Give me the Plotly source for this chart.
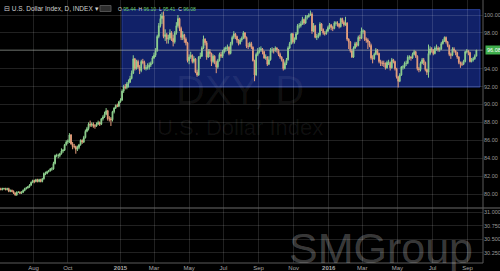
import numpy as np
import pandas as pd
import plotly.graph_objects as go
from plotly.subplots import make_subplots

# ---------------- data (2-day bars) ----------------
start_date = "2014-06-03"
end_date = "2016-09-16"
first_open = 80.7

closes = [
    80.6, 80.5, 80.6, 80.6, 80.5, 80.6, 80.3, 80.4, 80.3, 80.1,
    79.9, 80.2, 80.2, 80.1, 80.2, 80.4, 80.6, 80.7, 80.8, 81.0,
    81.3, 81.5, 81.4, 81.6, 81.4, 81.6, 81.4, 81.7, 82.3, 82.3,
    82.5, 82.6, 82.8, 82.8, 83.4, 84.3, 84.3, 84.3, 84.5, 84.8,
    84.9, 85.5, 85.8, 85.9, 86.6, 85.6, 85.3, 85.3, 85.0, 85.2,
    85.5, 86.0, 85.8, 86.3, 87.0, 87.3, 87.8, 87.7, 87.8, 87.6,
    87.6, 87.8, 88.0, 87.8, 88.4, 88.6, 88.9, 89.3, 88.4, 88.4,
    88.3, 89.2, 89.6, 89.9, 89.8, 90.3, 90.5, 91.5, 92.0, 91.9,
    92.3, 92.5, 92.9, 93.5, 95.1, 94.0, 94.8, 94.2, 93.8, 94.8,
    94.7, 94.0, 94.1, 94.2, 94.4, 94.6, 95.2, 95.5, 96.0, 97.6,
    98.8, 99.6, 99.9, 97.6, 97.8, 97.3, 97.4, 98.0, 97.4, 97.0,
    98.0, 98.8, 99.6, 98.5, 97.5, 97.8, 97.3, 96.9, 94.9, 95.3,
    95.5, 94.8, 95.1, 93.6, 93.3, 95.3, 95.4, 96.3, 97.3, 96.9,
    95.3, 95.9, 95.7, 94.8, 95.4, 94.7, 94.2, 94.9, 95.6, 95.4,
    95.9, 96.2, 96.3, 96.4, 95.7, 96.8, 97.5, 97.9, 97.6, 97.2,
    96.8, 97.2, 97.4, 98.0, 97.5, 96.5, 96.5, 96.8, 96.4, 94.9,
    93.3, 95.6, 95.9, 96.1, 96.2, 95.9, 95.2, 95.3, 94.5, 95.0,
    96.1, 96.1, 96.0, 96.3, 96.1, 95.6, 95.3, 95.0, 94.0, 94.6,
    95.0, 96.3, 96.8, 97.9, 97.0, 97.3, 97.9, 98.8, 98.8, 99.0,
    99.5, 99.1, 99.8, 99.8, 100.0, 100.1, 98.2, 98.8, 97.5, 97.6,
    97.8, 99.0, 98.4, 98.0, 97.9, 98.2, 98.6, 98.9, 98.6, 98.5,
    99.1, 99.1, 99.0, 98.7, 99.6, 99.2, 98.9, 99.1, 97.3, 97.0,
    96.0, 95.3, 96.3, 96.8, 96.6, 97.5, 97.4, 98.2, 98.2, 97.3,
    97.2, 97.0, 96.6, 95.2, 95.1, 95.6, 96.1, 95.7, 94.8, 94.6,
    94.6, 94.6, 94.1, 94.7, 94.7, 94.1, 95.0, 94.8, 94.0, 93.1,
    92.6, 93.3, 94.2, 94.2, 94.6, 94.6, 95.3, 95.3, 95.2, 95.6,
    95.9, 95.4, 94.0, 93.9, 94.6, 95.0, 94.7, 93.9, 93.6, 95.7,
    96.2, 96.1, 95.7, 96.3, 96.3, 96.1, 96.2, 96.8, 97.1, 97.5,
    97.0, 96.6, 95.6, 95.5, 96.2, 96.0, 95.8, 95.3, 94.7, 94.5,
    94.5, 94.8, 95.9, 96.0, 95.8, 94.8, 95.0, 95.1, 95.4, 96.08,
]

highs = [
    80.8, 80.7, 80.7, 80.7, 80.7, 80.7, 80.7, 80.5, 80.5, 80.4,
    80.2, 80.3, 80.3, 80.3, 80.3, 80.5, 80.7, 80.8, 80.9, 81.1,
    81.4, 81.6, 81.6, 81.7, 81.7, 81.7, 81.7, 81.8, 82.4, 82.5,
    82.6, 82.7, 82.9, 83.0, 83.6, 84.4, 84.5, 84.5, 84.6, 85.1,
    85.0, 85.6, 86.0, 86.1, 86.8, 86.7, 85.8, 85.6, 85.4, 85.4,
    85.6, 86.1, 86.1, 86.5, 87.2, 87.5, 88.0, 88.2, 88.0, 88.0,
    87.8, 88.0, 88.2, 88.1, 88.5, 88.8, 89.2, 89.6, 89.4, 88.7,
    88.6, 89.3, 89.7, 90.0, 90.1, 90.4, 90.7, 91.7, 92.2, 92.3,
    92.5, 92.8, 93.2, 93.8, 95.5, 95.2, 95.0, 95.0, 94.4, 95.0,
    95.1, 94.9, 94.4, 94.6, 94.7, 94.8, 95.4, 95.8, 96.3, 97.8,
    99.1, 100.1, 100.3, 100.4, 98.4, 98.0, 97.8, 98.4, 98.2, 97.8,
    98.2, 99.2, 100.0, 99.7, 98.7, 98.2, 97.9, 97.5, 97.0, 95.6,
    95.9, 95.6, 95.4, 95.2, 93.9, 95.4, 95.8, 96.5, 97.7, 97.4,
    97.1, 96.2, 96.2, 95.8, 95.6, 95.5, 94.9, 95.1, 95.8, 95.9,
    96.1, 96.4, 96.5, 96.7, 96.5, 97.0, 97.7, 98.2, 98.0, 97.7,
    97.3, 97.4, 97.6, 98.2, 98.1, 97.6, 96.9, 97.0, 97.0, 96.5,
    95.0, 95.8, 96.3, 96.4, 96.5, 96.3, 96.0, 95.6, 95.4, 95.4,
    96.3, 96.4, 96.3, 96.5, 96.4, 96.2, 95.8, 95.4, 95.1, 94.8,
    95.2, 96.5, 97.0, 98.0, 98.0, 97.5, 98.1, 99.0, 99.1, 99.3,
    99.8, 99.6, 100.0, 100.0, 100.2, 100.5, 100.3, 99.1, 98.9, 97.9,
    98.0, 99.2, 99.1, 98.5, 98.2, 98.4, 98.8, 99.1, 99.0, 98.8,
    99.3, 99.3, 99.3, 99.1, 99.7, 99.7, 99.4, 99.8, 99.2, 97.4,
    97.1, 96.2, 96.5, 97.0, 97.0, 97.7, 97.8, 98.6, 98.4, 98.3,
    97.5, 97.4, 97.1, 96.8, 95.5, 95.8, 96.3, 96.2, 95.8, 95.0,
    94.9, 94.9, 94.7, 94.9, 95.0, 94.8, 95.2, 95.1, 94.9, 94.1,
    93.2, 93.5, 94.3, 94.4, 94.8, 94.9, 95.5, 95.5, 95.4, 95.8,
    96.1, 96.0, 95.5, 94.2, 94.8, 95.2, 95.2, 94.8, 94.0, 96.7,
    96.5, 96.4, 96.2, 96.5, 96.7, 96.5, 96.4, 97.0, 97.3, 97.6,
    97.6, 97.1, 96.7, 95.8, 96.4, 96.4, 96.1, 95.9, 95.4, 94.8,
    94.8, 95.0, 96.0, 96.2, 96.1, 95.9, 95.2, 95.3, 95.6, 96.10,
]

lows = [
    80.5, 80.4, 80.4, 80.5, 80.4, 80.4, 80.2, 80.2, 80.2, 80.0,
    79.8, 79.8, 80.1, 80.0, 80.0, 80.1, 80.3, 80.5, 80.6, 80.7,
    80.9, 81.2, 81.2, 81.3, 81.3, 81.3, 81.3, 81.3, 81.6, 82.1,
    82.2, 82.4, 82.5, 82.6, 82.7, 83.3, 84.1, 84.0, 84.1, 84.4,
    84.6, 84.8, 85.4, 85.6, 85.7, 85.5, 85.0, 85.1, 84.5, 84.8,
    85.0, 85.4, 85.6, 85.7, 86.2, 86.9, 87.1, 87.5, 87.5, 87.4,
    87.3, 87.5, 87.7, 87.6, 87.7, 88.2, 88.5, 88.8, 88.2, 88.1,
    87.6, 88.1, 89.0, 89.5, 89.7, 89.7, 90.2, 90.4, 91.3, 91.7,
    91.7, 91.9, 92.4, 92.8, 93.4, 93.8, 93.9, 94.0, 93.4, 93.6,
    94.5, 93.9, 93.8, 93.9, 93.9, 94.2, 94.5, 95.1, 95.3, 95.9,
    97.4, 98.6, 99.0, 97.4, 97.1, 96.8, 96.8, 97.2, 97.1, 96.5,
    96.8, 97.8, 98.6, 98.2, 97.2, 97.2, 96.9, 96.6, 94.7, 94.5,
    95.1, 94.6, 94.6, 93.5, 93.1, 93.2, 95.1, 95.3, 96.2, 96.6,
    95.0, 95.2, 95.3, 94.3, 94.6, 94.5, 93.5, 94.0, 94.8, 95.2,
    95.2, 95.7, 95.9, 96.0, 95.5, 95.6, 96.6, 97.3, 97.3, 96.9,
    96.6, 96.7, 97.0, 97.3, 97.3, 96.3, 96.2, 96.4, 96.2, 94.8,
    92.6, 93.2, 95.4, 95.7, 95.9, 95.6, 95.1, 95.0, 94.3, 94.4,
    94.9, 95.8, 95.7, 95.9, 95.8, 95.4, 95.1, 94.8, 93.8, 93.9,
    94.4, 94.9, 96.2, 96.7, 96.8, 96.8, 97.2, 97.8, 98.5, 98.6,
    98.9, 98.9, 99.0, 99.5, 99.7, 99.9, 97.9, 98.1, 97.4, 97.2,
    97.4, 97.6, 98.2, 97.8, 97.7, 97.8, 98.1, 98.4, 98.3, 98.2,
    98.4, 98.8, 98.7, 98.5, 98.6, 99.0, 98.7, 98.8, 97.1, 96.2,
    95.8, 95.2, 95.2, 96.2, 96.4, 96.5, 97.1, 97.3, 97.9, 97.1,
    96.9, 96.2, 96.4, 95.0, 94.6, 95.0, 95.5, 95.5, 94.6, 94.3,
    94.3, 94.2, 93.9, 94.0, 94.4, 93.8, 94.0, 94.6, 93.8, 92.9,
    91.9, 92.5, 93.2, 93.9, 94.0, 94.3, 94.5, 95.0, 94.9, 95.1,
    95.5, 95.2, 93.8, 93.6, 93.7, 94.5, 94.4, 93.7, 93.3, 93.0,
    95.5, 95.8, 95.5, 95.6, 96.0, 95.9, 95.9, 96.1, 96.7, 97.0,
    96.8, 96.4, 95.4, 95.1, 95.4, 95.8, 95.5, 95.1, 94.5, 94.1,
    94.3, 94.4, 94.7, 95.7, 95.5, 94.7, 94.7, 94.8, 95.0, 95.41,
]

header_ohlc = [95.44, 96.10, 95.41, 96.08]
last_price = 96.08

month_ticks = [(2014, 8, "Aug"), (2014, 10, "Oct"), (2015, 1, "<b>2015</b>"),
               (2015, 3, "Mar"), (2015, 5, "May"), (2015, 7, "Jul"),
               (2015, 9, "Sep"), (2015, 11, "Nov"), (2016, 1, "<b>2016</b>"),
               (2016, 3, "Mar"), (2016, 5, "May"), (2016, 7, "Jul"),
               (2016, 9, "Sep")]
price_ticks = [80, 82, 84, 86, 88, 90, 92, 94, 96, 98, 100]
lower_ticks = [30.25, 30.50, 30.75, 31.00]

# ---------------- build ----------------
all_days = pd.bdate_range(start_date, end_date)
bar_pos = np.arange(0, len(all_days), 2)[:len(closes)]
opens = [first_open] + closes[:-1]
hi = [max(h, o, c) for h, o, c in zip(highs, opens, closes)]
lo = [min(l, o, c) for l, o, c in zip(lows, opens, closes)]

tick_pos = [int(all_days.searchsorted(pd.Timestamp(y, m, 1))) for y, m, _ in month_ticks]
tick_txt = [t for _, _, t in month_ticks]

UP = "#8fd08f"
DOWN = "#e59e7c"
GRID = "rgba(255,255,255,0.13)"
FONT = "Liberation Sans, Arial, sans-serif"

fig = make_subplots(rows=2, cols=1, shared_xaxes=True, vertical_spacing=0,
                    row_heights=[208, 55])

fig.add_trace(go.Candlestick(
    x=bar_pos, open=opens, high=hi, low=lo, close=closes,
    increasing=dict(line=dict(color=UP, width=1), fillcolor=UP),
    decreasing=dict(line=dict(color=DOWN, width=1), fillcolor=DOWN),
    whiskerwidth=0, showlegend=False, hoverinfo="skip"), row=1, col=1)
# empty indicator pane (no series visible in the reference)
fig.add_trace(go.Scatter(x=[None], y=[None], mode="lines", showlegend=False,
                         hoverinfo="skip"), row=2, col=1)

xr = [1.0, 606.3]
common_x = dict(range=xr, tickvals=tick_pos, showgrid=True, gridcolor=GRID,
                gridwidth=1, zeroline=False, showline=False, ticks="",
                rangeslider=dict(visible=False), ticklabeloverflow="allow")
fig.update_xaxes(**common_x)
fig.update_xaxes(showticklabels=False, row=1, col=1)
fig.update_xaxes(ticktext=tick_txt, showticklabels=True, ticklabelstandoff=0,
                 tickfont=dict(size=6, color="#a8a8a8", family=FONT), row=2, col=1)

price_txt = ["" if v == 96 else f"{v:.2f}" for v in price_ticks]
fig.update_yaxes(side="right", range=[78.436, 101.676], tickvals=price_ticks,
                 ticktext=price_txt, ticklabeloverflow="allow",
                 showgrid=True, gridcolor=GRID, zeroline=False, ticks="",
                 tickfont=dict(size=5.5, color="#9a9a9a", family=FONT), row=1, col=1)
fig.update_yaxes(side="right", range=[30.065, 31.074], tickvals=lower_ticks,
                 ticktext=[f"{v:.3f}" for v in lower_ticks], ticklabeloverflow="allow",
                 showgrid=True, gridcolor=GRID, zeroline=False, ticks="",
                 tickfont=dict(size=5.5, color="#9a9a9a", family=FONT), row=2, col=1)

H = 263.0
W = 483.0
shapes = [
    # range rectangle
    dict(type="rect", xref="x", yref="y", x0=154, x1=602.5, y0=91.95, y1=100.6,
         fillcolor="rgb(17,33,104)", line=dict(color="rgb(40,62,150)", width=1),
         layer="below"),
    # last price line
    dict(type="line", xref="paper", yref="y", x0=0, x1=1, y0=last_price, y1=last_price,
         line=dict(color="rgba(160,170,160,0.55)", width=1)),
    # panel divider
    dict(type="line", xref="paper", yref="paper", x0=0, x1=500 / W,
         y0=55 / H, y1=55 / H, line=dict(color="#6a6a6a", width=1)),
    # right axis border
    dict(type="line", xref="paper", yref="paper", x0=1, x1=1, y0=0, y1=1,
         line=dict(color="#5a5a5a", width=1)),
    # bottom axis border
    dict(type="line", xref="paper", yref="paper", x0=0, x1=1, y0=0, y1=0,
         line=dict(color="#5a5a5a", width=1)),
    # header icon
    dict(type="rect", xref="paper", yref="paper", x0=100 / W, x1=111 / W,
         y0=1 - 11.5 / H, y1=1 - 5.5 / H, fillcolor="#2e2e2e",
         line=dict(color="#505050", width=1)),
]

ohlc_txt = "  ".join(
    f"<span style='color:#d8d8d8'>{lab}</span> <span style='color:#6fd06f'>{v:.2f}</span>"
    for lab, v in zip("OHLC", header_ohlc))

annotations = [
    dict(text="DXY, D", xref="paper", yref="paper", x=240 / W, y=1 - 90 / H,
         xanchor="center", yanchor="middle", showarrow=False,
         font=dict(size=40, color="rgba(255,255,255,0.065)", family=FONT)),
    dict(text="U.S. Dollar Index", xref="paper", yref="paper", x=240 / W, y=1 - 127 / H,
         xanchor="center", yanchor="middle", showarrow=False,
         font=dict(size=22, color="rgba(255,255,255,0.065)", family=FONT)),
    dict(text="SMGroup", xref="paper", yref="paper", x=381 / W, y=1 - 248 / H,
         xanchor="center", yanchor="middle", showarrow=False,
         font=dict(size=43, color="rgba(255,255,255,0.24)", family=FONT)),
    dict(text="⊟ U.S. Dollar Index, D, INDEX ▾", xref="paper", yref="paper",
         x=2 / W, y=1 - 8.5 / H, xanchor="left", yanchor="middle", showarrow=False,
         font=dict(size=6.5, color="#d0d0d0", family=FONT)),
    dict(text=ohlc_txt, xref="paper", yref="paper", x=116 / W, y=1 - 8.5 / H,
         xanchor="left", yanchor="middle", showarrow=False,
         font=dict(size=5, color="#d0d0d0", family=FONT)),
    dict(text=f"{last_price:.2f}", xref="paper", yref="y", x=1.004, y=last_price,
         xanchor="left", yanchor="middle", showarrow=False, bgcolor="#3fae4c",
         borderpad=1, font=dict(size=5.5, color="#ffffff", family=FONT)),
]

fig.update_layout(
    width=500, height=271,
    margin=dict(l=0, r=17, t=0, b=8, autoexpand=False),
    paper_bgcolor="#000000", plot_bgcolor="#000000",
    showlegend=False, shapes=shapes, annotations=annotations,
    font=dict(family=FONT, color="#a0a0a0"),
)

fig.write_html("out.html")
